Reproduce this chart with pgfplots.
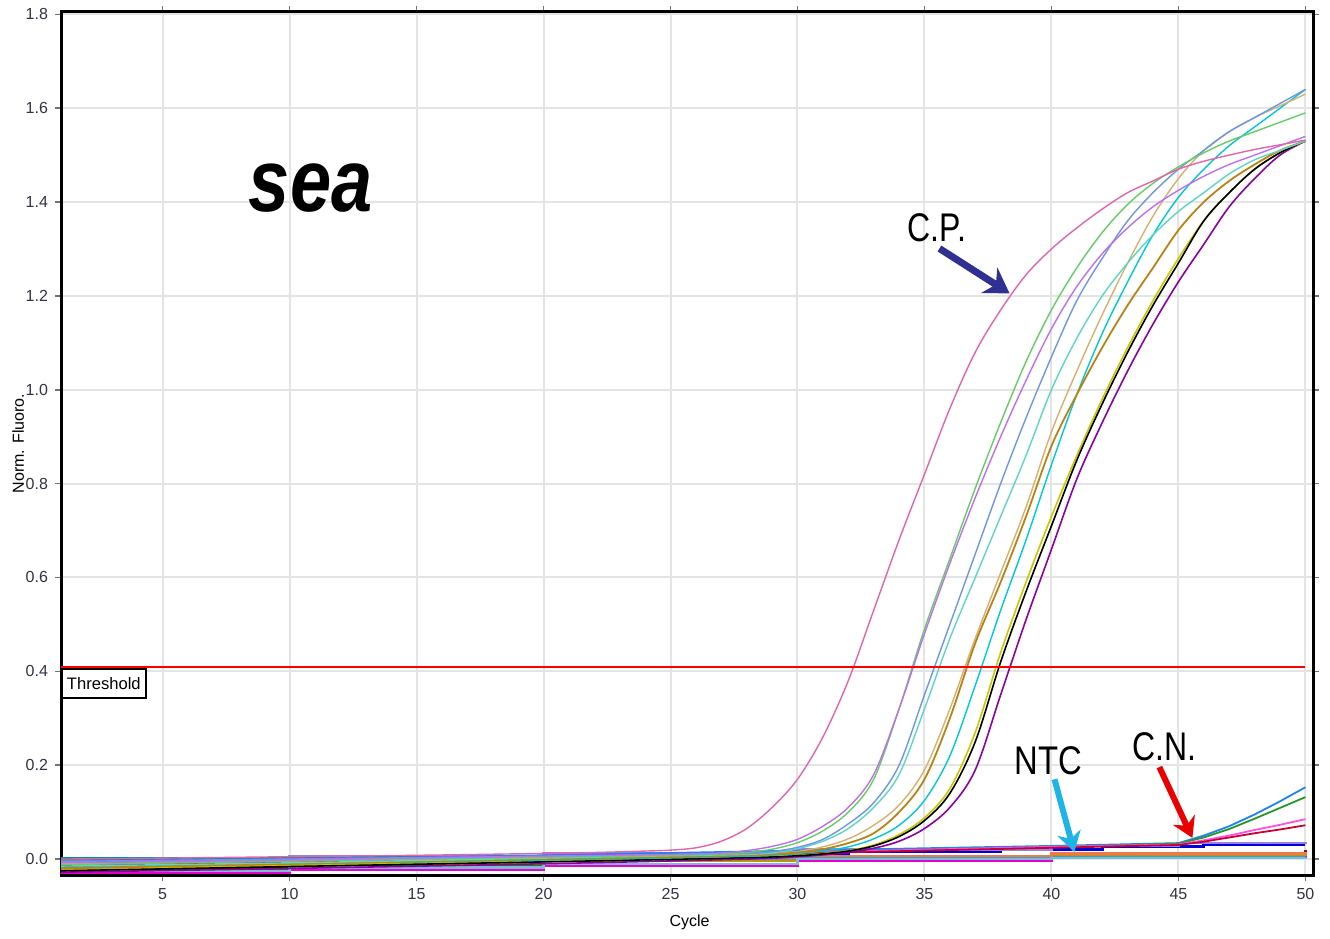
\documentclass[border=0pt]{standalone}
\usepackage{fontspec}
\setmainfont{Liberation Sans}
\usepackage{graphicx}
\usepackage{pgfplots}
\pgfplotsset{compat=1.18}
\usetikzlibrary{arrows.meta}

\definecolor{tickcol}{RGB}{50,50,70}
\definecolor{gridcol}{RGB}{228,228,228}
\definecolor{cpink}{RGB}{228,100,170}
\definecolor{cviolet}{RGB}{190,110,240}
\definecolor{cgreen}{RGB}{100,205,100}
\definecolor{ccorn}{RGB}{110,150,230}
\definecolor{caqua}{RGB}{90,215,195}
\definecolor{ctan}{RGB}{215,175,110}
\definecolor{cbrown}{RGB}{185,130,20}
\definecolor{ccyan}{RGB}{0,200,215}
\definecolor{cyel}{RGB}{200,200,0}
\definecolor{cpurp}{RGB}{140,0,160}
\definecolor{arrnavy}{RGB}{46,49,146}
\definecolor{arrsky}{RGB}{30,180,230}
\definecolor{arrred}{RGB}{235,0,0}

\begin{document}
\begin{tikzpicture}
\begin{axis}[
    scale only axis, width=626pt, height=431.5pt,
    xmin=1, xmax=50.3, ymin=-0.034, ymax=1.805,
    xtick={5,10,...,50}, ytick={0,0.2,...,1.8},
    yticklabel style={/pgf/number format/.cd, fixed, fixed zerofill, precision=1},
    /pgf/number format/assume math mode=true,
    tick label style={font=\fontsize{8}{8}\selectfont, color=tickcol},
    tick align=outside, major tick length=3pt,
    tick style={black!55, line width=0.8pt},
    grid=major, grid style={gridcol, line width=1pt},
    axis line style={black, line width=1.5pt},
    xlabel={Cycle}, ylabel={Norm. Fluoro.},
    label style={font=\fontsize{8}{8}\selectfont},
    xlabel style={at={(axis description cs:0.502,-0.0545)}, anchor=center},
    ylabel style={at={(axis description cs:-0.0343,0.5)}, anchor=center},
    clip=true,
    amp/.style={smooth, tension=0.55},
]
% baselines (NTC and negatives)
\addplot[const plot, color={rgb,255:red,0;green,0;blue,220}, line width=1.4pt] coordinates {(1,-0.008)(3,-0.004)(8,0.0)(14,0.004)(20,0.008)(26,0.012)(32,0.015)(38,0.02)(42,0.026)(46,0.03)(50,0.03)};
\addplot[const plot, color={rgb,255:red,150;green,130;blue,230}, line width=1.2pt] coordinates {(1,0.0)(10,0.006)(20,0.012)(30,0.02)(40,0.028)(45,0.034)(50,0.036)};
\addplot[const plot, color={rgb,255:red,0;green,140;blue,150}, line width=1.4pt] coordinates {(1,0.002)(10,0.003)(20,0.004)(30,0.004)(40,0.005)(50,0.005)};
\addplot[const plot, color={rgb,255:red,20;green,130;blue,20}, line width=1.2pt] coordinates {(1,-0.02)(10,-0.012)(20,-0.004)(30,0.004)(40,0.01)(50,0.018)};
\addplot[const plot, color={rgb,255:red,180;green,0;blue,0}, line width=1.2pt] coordinates {(1,-0.018)(10,-0.01)(20,-0.003)(30,0.004)(40,0.012)(50,0.02)};
\addplot[const plot, color={rgb,255:red,230;green,0;blue,210}, line width=1.2pt] coordinates {(1,-0.03)(10,-0.022)(20,-0.014)(30,-0.004)(40,0.006)(50,0.012)};
\addplot[const plot, color={rgb,255:red,190;green,150;blue,0}, line width=1.2pt] coordinates {(1,-0.015)(10,-0.01)(20,-0.004)(30,0.002)(40,0.009)(50,0.014)};
\addplot[const plot, color={rgb,255:red,60;green,160;blue,190}, line width=1.2pt] coordinates {(1,-0.01)(10,-0.006)(20,0.0)(30,0.002)(40,0.003)(50,0.004)};
\addplot[const plot, color={rgb,255:red,240;green,120;blue,80}, line width=1.2pt] coordinates {(1,-0.005)(10,-0.002)(20,0.002)(30,0.006)(40,0.012)(50,0.015)};
\addplot[const plot, color={rgb,255:red,120;green,190;blue,210}, line width=1.2pt] coordinates {(1,-0.025)(10,-0.018)(20,-0.01)(30,0.0)(40,0.002)(50,0.003)};
% C.N. samples rising late
\addplot[color={rgb,255:red,30;green,130;blue,240}, line width=0.9pt] coordinates {(1,-0.005)(10,0.0)(20,0.008)(30,0.018)(40,0.028)(45,0.034)(46,0.05)(47,0.07)(48,0.095)(49,0.123)(50,0.153)};
\addplot[color={rgb,255:red,40;green,150;blue,40}, line width=0.9pt] coordinates {(1,-0.01)(20,0.004)(30,0.014)(40,0.026)(45,0.033)(46,0.046)(47,0.064)(48,0.086)(49,0.109)(50,0.132)};
\addplot[color={rgb,255:red,255;green,80;blue,230}, line width=0.9pt] coordinates {(1,-0.012)(20,0.002)(30,0.014)(40,0.026)(45,0.031)(46,0.04)(47,0.05)(48,0.062)(49,0.073)(50,0.085)};
\addplot[color={rgb,255:red,200;green,0;blue,50}, line width=0.9pt] coordinates {(1,-0.015)(20,0.0)(30,0.012)(40,0.024)(45,0.030)(46,0.037)(47,0.046)(48,0.055)(49,0.063)(50,0.072)};
% amplification curves
\addplot[amp, color=cpurp, line width=0.8pt] coordinates {(1,-0.028)(10,-0.02)(20,-0.01)(28,0.0)(30,0.005)(31,0.009)(32,0.014)(33,0.023)(34,0.038)(35,0.065)(36,0.11)(37,0.19)(38,0.35)(39,0.51)(40,0.66)(41,0.81)(42,0.93)(43,1.04)(44,1.14)(45,1.23)(46,1.31)(47,1.39)(48,1.45)(49,1.50)(50,1.53)};
\addplot[amp, color=cyel, line width=0.8pt] coordinates {(1,-0.022)(10,-0.014)(20,-0.004)(28,0.004)(30,0.008)(31,0.012)(32,0.018)(33,0.03)(34,0.052)(35,0.088)(36,0.15)(37,0.27)(38,0.44)(39,0.59)(40,0.73)(41,0.86)(42,0.98)(43,1.09)(44,1.19)(45,1.28)(46,1.36)(47,1.42)(48,1.47)(49,1.505)(50,1.53)};
\addplot[amp, color=black, line width=0.8pt] coordinates {(1,-0.025)(10,-0.016)(20,-0.006)(28,0.003)(30,0.007)(31,0.011)(32,0.017)(33,0.028)(34,0.048)(35,0.082)(36,0.14)(37,0.25)(38,0.42)(39,0.57)(40,0.71)(41,0.85)(42,0.97)(43,1.08)(44,1.18)(45,1.27)(46,1.36)(47,1.42)(48,1.47)(49,1.505)(50,1.53)};
\addplot[amp, color=ccyan, line width=0.7pt] coordinates {(1,-0.018)(10,-0.01)(20,-0.002)(28,0.006)(30,0.012)(31,0.017)(32,0.026)(33,0.043)(34,0.072)(35,0.125)(36,0.22)(37,0.37)(38,0.53)(39,0.68)(40,0.84)(41,0.99)(42,1.12)(43,1.23)(44,1.33)(45,1.41)(46,1.47)(47,1.52)(48,1.56)(49,1.60)(50,1.64)};
\addplot[amp, color=ctan, line width=0.7pt] coordinates {(1,-0.01)(10,-0.004)(20,0.004)(28,0.009)(29,0.011)(30,0.016)(31,0.026)(32,0.043)(33,0.072)(34,0.115)(35,0.19)(36,0.32)(37,0.47)(38,0.61)(39,0.75)(40,0.91)(41,1.04)(42,1.16)(43,1.27)(44,1.37)(45,1.45)(46,1.51)(47,1.55)(48,1.58)(49,1.605)(50,1.63)};
\addplot[amp, color=cbrown, line width=0.9pt] coordinates {(1,-0.02)(10,-0.01)(20,0.0)(28,0.008)(30,0.014)(31,0.021)(32,0.034)(33,0.055)(34,0.10)(35,0.17)(36,0.30)(37,0.46)(38,0.59)(39,0.73)(40,0.88)(41,0.99)(42,1.09)(43,1.18)(44,1.26)(45,1.34)(46,1.40)(47,1.445)(48,1.48)(49,1.51)(50,1.53)};
\addplot[amp, color=caqua, line width=0.7pt] coordinates {(1,-0.015)(10,-0.008)(20,0.002)(25,0.007)(28,0.010)(29,0.013)(30,0.022)(31,0.038)(32,0.065)(33,0.11)(34,0.18)(35,0.32)(36,0.47)(37,0.60)(38,0.73)(39,0.86)(40,1.00)(41,1.11)(42,1.20)(43,1.27)(44,1.33)(45,1.38)(46,1.42)(47,1.46)(48,1.49)(49,1.51)(50,1.53)};
\addplot[amp, color=ccorn, line width=0.7pt] coordinates {(1,-0.005)(10,0.0)(20,0.006)(25,0.009)(28,0.012)(29,0.016)(30,0.025)(31,0.042)(32,0.075)(33,0.12)(34,0.20)(35,0.35)(36,0.50)(37,0.65)(38,0.80)(39,0.94)(40,1.07)(41,1.19)(42,1.28)(43,1.36)(44,1.42)(45,1.47)(46,1.51)(47,1.55)(48,1.58)(49,1.61)(50,1.64)};
\addplot[amp, color=cgreen, line width=0.7pt] coordinates {(1,-0.012)(10,-0.004)(20,0.004)(25,0.008)(27,0.011)(28,0.014)(29,0.021)(30,0.035)(31,0.06)(32,0.10)(33,0.17)(34,0.32)(35,0.49)(36,0.64)(37,0.79)(38,0.93)(39,1.06)(40,1.17)(41,1.26)(42,1.335)(43,1.395)(44,1.44)(45,1.475)(46,1.505)(47,1.53)(48,1.55)(49,1.57)(50,1.59)};
\addplot[amp, color=cviolet, line width=0.7pt] coordinates {(1,-0.008)(10,-0.002)(20,0.006)(25,0.010)(27,0.013)(28,0.018)(29,0.027)(30,0.042)(31,0.07)(32,0.11)(33,0.18)(34,0.32)(35,0.48)(36,0.63)(37,0.77)(38,0.90)(39,1.02)(40,1.13)(41,1.22)(42,1.29)(43,1.345)(44,1.39)(45,1.425)(46,1.455)(47,1.48)(48,1.50)(49,1.52)(50,1.54)};
\addplot[amp, color=cpink, line width=0.7pt] coordinates {(1,0.0)(5,0.002)(10,0.005)(15,0.008)(20,0.012)(22,0.014)(24,0.017)(25,0.019)(26,0.024)(27,0.038)(28,0.065)(29,0.11)(30,0.17)(31,0.26)(32,0.38)(33,0.53)(34,0.68)(35,0.82)(36,0.96)(37,1.08)(38,1.17)(39,1.245)(40,1.30)(41,1.345)(42,1.385)(43,1.42)(44,1.445)(45,1.47)(46,1.487)(47,1.50)(48,1.512)(49,1.522)(50,1.532)};
% threshold
\addplot[color=red, line width=1pt] coordinates {(1,0.41)(50,0.41)};
\node[anchor=north west, draw=black, line width=0.8pt, fill=white, inner xsep=2pt, inner ysep=0pt, minimum width=42pt, minimum height=14.5pt, font=\fontsize{8.3}{8.3}\selectfont] at (axis cs:1,0.407) {Threshold};
% annotations
\node[font=\fontsize{37}{37}\selectfont\bfseries\itshape] at (axis cs:10.83,1.43) {\scalebox{1}[1.2]{sea}};
\node[font=\fontsize{20}{20}\selectfont] at (axis cs:35.49,1.345) {\scalebox{0.8}[1]{C.P.}};
\node[font=\fontsize{20}{20}\selectfont] at (axis cs:39.88,0.209) {\scalebox{0.82}[1]{NTC}};
\node[font=\fontsize{20}{20}\selectfont] at (axis cs:44.45,0.2385) {\scalebox{0.8}[1]{C.N.}};
\draw[arrnavy, line width=3.5pt, -{Stealth[length=12pt,width=15pt]}] (axis cs:35.59,1.301) -- (axis cs:38.35,1.2055);
\draw[arrsky, line width=3pt, -{Stealth[length=10pt,width=12pt]}] (axis cs:40.12,0.170) -- (axis cs:40.9,0.015);
\draw[arrred, line width=3pt, -{Stealth[length=10pt,width=12pt]}] (axis cs:44.25,0.196) -- (axis cs:45.55,0.045);
\end{axis}
\path ([shift={(-30.5pt,-31.5pt)}]current axis.south west) rectangle ([shift={(8.5pt,6pt)}]current axis.north east);
\end{tikzpicture}
\end{document}
